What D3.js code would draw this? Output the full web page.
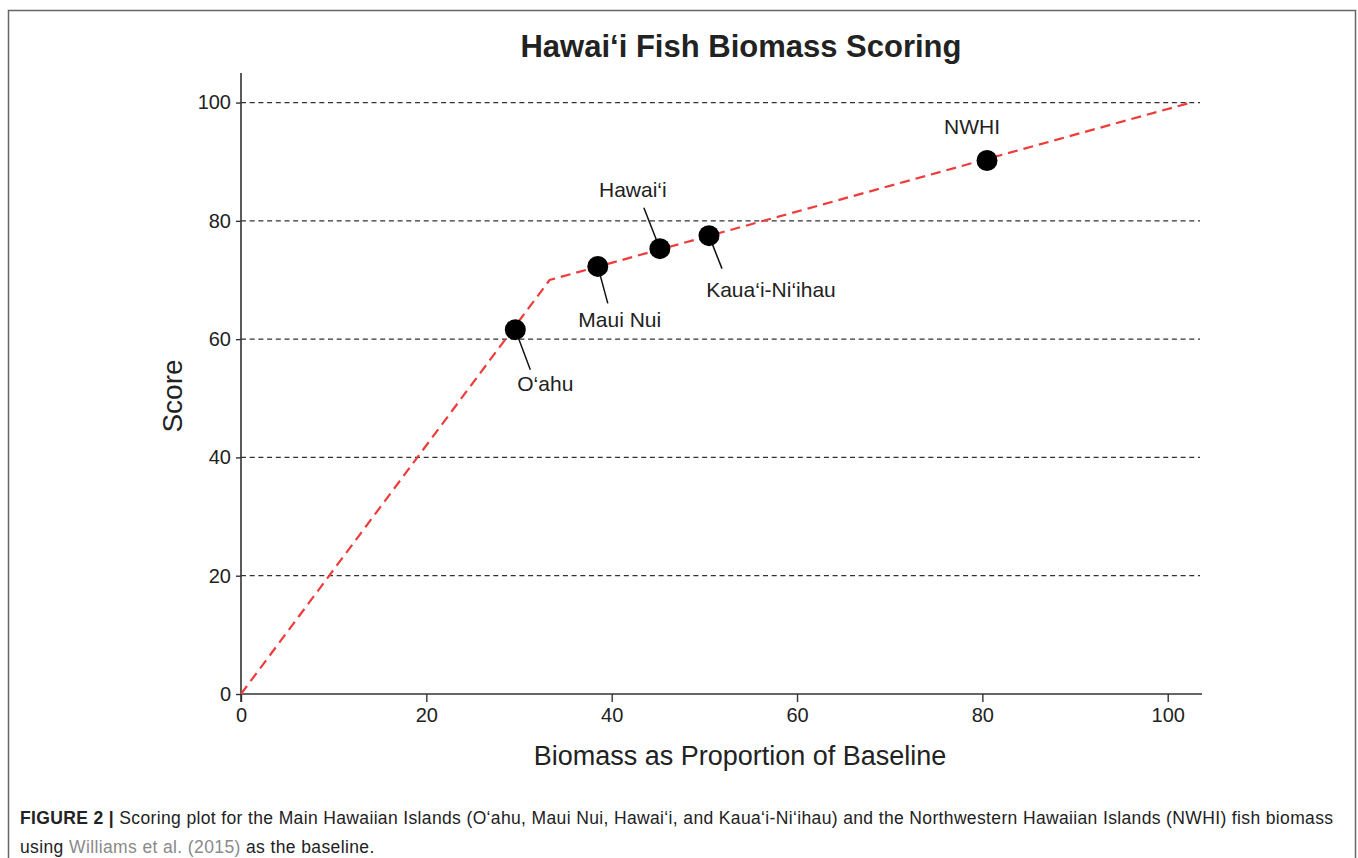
<!DOCTYPE html>
<html>
<head>
<meta charset="utf-8">
<script src="https://cdn.jsdelivr.net/npm/d3@7"></script>
<style>
  body { margin: 0; background: #fff; }
  text { font-family: "Liberation Sans", Arial, Helvetica, sans-serif; fill: #222; }
</style>
</head>
<body>
<div id="chart"></div>
<script>
// data
const islands = ["O‘ahu", "Maui Nui", "Hawai‘i", "Kaua‘i-Ni‘ihau", "NWHI"];
const biomass = [29.6, 38.5, 45.2, 50.5, 80.5];
const scores = [61.6, 72.3, 75.3, 77.5, 90.2];
// scoring curve breakpoints
const curveX = [0, 33.3, 102.5];
const curveY = [0, 70, 100];
const xTicks = [0, 20, 40, 60, 80, 100];
const yTicks = [0, 20, 40, 60, 80, 100];

// label placement (pixels relative to point): leader end, text anchor
const labelLayout = [
    { lx: 15, ly: 40, tx: 30, ty: 61 },
    { lx: 10, ly: 37, tx: 22, ty: 61 },
    { lx: -16, ly: -41, tx: -27, ty: -52 },
    { lx: 13, ly: 33, tx: 62, ty: 61 },
    { lx: null, ly: null, tx: -15, ty: -27 }
];

const W = 1358, H = 858;
const plot = { left: 241, right: 1202, top: 73, bottom: 694 };

const svg = d3.select("#chart").append("svg")
    .attr("width", W).attr("height", H);

// frame
svg.append("rect")
    .attr("x", 8.5).attr("y", 10.5)
    .attr("width", 1347).attr("height", 860)
    .attr("fill", "none").attr("stroke", "#666").attr("stroke-width", 1.5);

let x = d3.scaleLinear().domain([0, 103.7]).range([plot.left, plot.right]);
let y = d3.scaleLinear().domain([0, 105]).range([plot.bottom, plot.top]);

// grid
svg.append("g").selectAll("line")
    .data(yTicks.filter(d => d > 0))
    .enter().append("line")
    .attr("x1", plot.left).attr("x2", plot.right - 2)
    .attr("y1", d => y(d)).attr("y2", d => y(d))
    .attr("stroke", "#333").attr("stroke-width", 1.3)
    .attr("stroke-dasharray", "5,3.7");

// axes
let gx = svg.append("g")
    .attr("transform", `translate(0,${plot.bottom})`)
    .call(d3.axisBottom(x).tickValues(xTicks).tickSize(8).tickPadding(6).tickSizeOuter(0));
let gy = svg.append("g")
    .attr("transform", `translate(${plot.left},0)`)
    .call(d3.axisLeft(y).tickValues(yTicks).tickSize(5).tickPadding(5).tickSizeOuter(0));

[gx, gy].forEach(g => {
    g.select(".domain").attr("stroke", "#333").attr("stroke-width", 1.6);
    g.selectAll(".tick line").attr("stroke", "#333").attr("stroke-width", 1.4);
    g.selectAll(".tick text").style("font-size", "20px").attr("fill", "#222")
        .style("font-family", "'Liberation Sans', Arial, sans-serif");
});
gx.select(".domain").attr("d", `M${plot.left},0H${plot.right}`);
gy.select(".domain").attr("d", `M0,${plot.top}V${plot.bottom + 8}`);

// scoring curve
let curve = d3.line().x(d => x(d[0])).y(d => y(d[1]));
svg.append("path")
    .datum(d3.zip(curveX, curveY))
    .attr("d", curve)
    .attr("fill", "none").attr("stroke", "#ee3b3b").attr("stroke-width", 2.2)
    .attr("stroke-dasharray", "10,6");

// leader lines
let pts = islands.map((name, i) => ({ name: name, bx: biomass[i], sc: scores[i], lay: labelLayout[i] }));
svg.append("g").selectAll("line")
    .data(pts.filter(d => d.lay.lx !== null))
    .enter().append("line")
    .attr("x1", d => x(d.bx)).attr("y1", d => y(d.sc))
    .attr("x2", d => x(d.bx) + d.lay.lx).attr("y2", d => y(d.sc) + d.lay.ly)
    .attr("stroke", "#111").attr("stroke-width", 1.5);

// points
svg.append("g").selectAll("circle")
    .data(pts)
    .enter().append("circle")
    .attr("cx", d => x(d.bx)).attr("cy", d => y(d.sc))
    .attr("r", 10.5).attr("fill", "#000");

// point labels
svg.append("g").selectAll("text")
    .data(pts)
    .enter().append("text")
    .attr("x", d => x(d.bx) + d.lay.tx).attr("y", d => y(d.sc) + d.lay.ty)
    .attr("text-anchor", "middle")
    .style("font-size", "21px")
    .text(d => d.name);

// titles
svg.append("text")
    .attr("x", 741).attr("y", 57)
    .attr("text-anchor", "middle")
    .style("font-size", "31px").style("font-weight", "bold")
    .text("Hawai‘i Fish Biomass Scoring");

svg.append("text")
    .attr("x", 740).attr("y", 765)
    .attr("text-anchor", "middle")
    .style("font-size", "27px").attr("fill", "#222")
    .text("Biomass as Proportion of Baseline");

svg.append("text")
    .attr("transform", "translate(182,396) rotate(-90)")
    .attr("text-anchor", "middle")
    .style("font-size", "28px")
    .text("Score");

// caption
let cap1 = svg.append("text").attr("x", 20).attr("y", 824).style("font-size", "17.5px")
    .attr("textLength", 1313).attr("lengthAdjust", "spacing");
cap1.append("tspan").style("font-weight", "bold").text("FIGURE 2 | ");
cap1.append("tspan").text("Scoring plot for the Main Hawaiian Islands (O‘ahu, Maui Nui, Hawai‘i, and Kaua‘i-Ni‘ihau) and the Northwestern Hawaiian Islands (NWHI) fish biomass");

let cap2 = svg.append("text").attr("x", 20).attr("y", 853).style("font-size", "17.5px")
    .style("letter-spacing", "0.38px");
cap2.append("tspan").text("using ");
cap2.append("tspan").attr("fill", "#8a8a8a").style("fill", "#8a8a8a").text("Williams et al. (2015)");
cap2.append("tspan").text(" as the baseline.");
</script>
</body>
</html>
